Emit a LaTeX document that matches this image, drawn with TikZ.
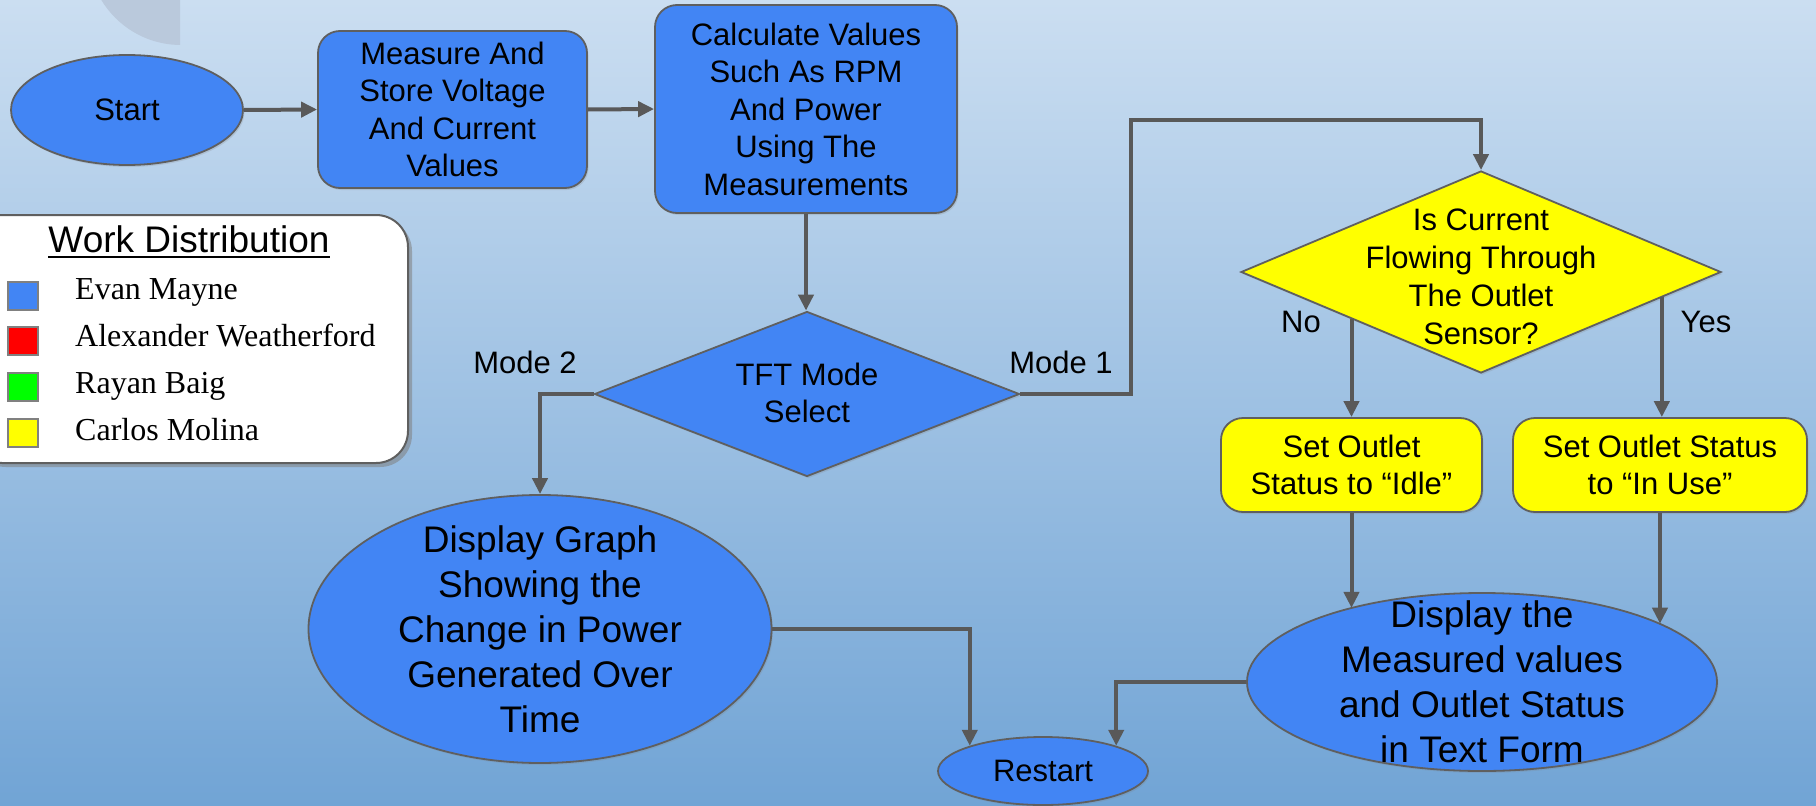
\documentclass[tikz,border=0pt]{standalone}
\usepackage{fontspec}
\setmainfont{Liberation Sans}
\newfontfamily\legendfont{Liberation Serif}
\usetikzlibrary{shapes.geometric,arrows.meta,shadows,calc}
\definecolor{bgtop}{RGB}{203,222,241}
\definecolor{bgbot}{RGB}{113,164,213}
\definecolor{gblue}{RGB}{66,133,244}
\definecolor{yel}{RGB}{255,255,0}
\definecolor{edgec}{RGB}{95,95,95}
\definecolor{wire}{RGB}{89,89,89}
\definecolor{ghost}{RGB}{186,201,220}
\newcommand\ftA{\fontsize{31pt}{37.5pt}\selectfont}
\newcommand\ftB{\fontsize{37pt}{45pt}\selectfont}
\newcommand\ftW{\fontsize{37pt}{44pt}\selectfont}
\newcommand\ftL{\legendfont\fontsize{32pt}{36pt}\selectfont}
\tikzset{
  shp/.style={draw=edgec, line width=1.8pt,
    drop shadow={opacity=0.22, shadow xshift=1.5pt, shadow yshift=-2pt}},
  bell/.style={shp, ellipse, fill=gblue, inner sep=0pt},
  bbox/.style={shp, rectangle, rounded corners=22pt, fill=gblue, inner sep=0pt,
    align=center, font=\ftA},
  ybox/.style={bbox, fill=yel},
  ddia/.style={shp, diamond, inner sep=0pt},
  txt/.style={align=center, font=\ftA, inner sep=0pt},
  bigtxt/.style={align=center, font=\ftB, inner sep=0pt},
  conn/.style={draw=wire, line width=4pt, -{Triangle[length=16pt,width=15pt]}},
  legbox/.style={draw=edgec, line width=2pt, fill=white, rounded corners=32pt,
    drop shadow={opacity=0.55, shadow xshift=4pt, shadow yshift=-4pt}},
  sq/.style={draw=gray, line width=1.2pt, minimum width=30pt, minimum height=28pt, inner sep=0pt},
  legname/.style={anchor=base west, font=\ftL, inner sep=0pt},
}
\begin{document}
\begin{tikzpicture}[x=1pt,y=-1pt]
\useasboundingbox (0,0) rectangle (1816,806);
\clip (0,0) rectangle (1816,806);
\shade[top color=bgtop, bottom color=bgbot] (0,0) rectangle (1816,806);
% faint decoration at top left
\begin{scope}
  \clip (0,0) rectangle (180,60);
  \fill[ghost] (181,-48) circle[radius=93pt];
\end{scope}

% legend
\node[legbox, minimum width=438pt, minimum height=248pt] (leg) at (189,339) {};
\node[anchor=base, font=\ftW, inner sep=0pt] (wd) at (189,252) {Work Distribution};
\draw[line width=1.8pt] ([yshift=-5pt]wd.base west) -- ([yshift=-5pt]wd.base east);
\node[sq, fill=gblue] (s1) at (23,296) {};
\node[sq, fill=red] (s2) at (23,341) {};
\node[sq, fill=green] (s3) at (23,387) {};
\node[sq, fill=yel] (s4) at (23,433) {};
\node[legname] (n1) at (75,299) {Evan Mayne};
\node[legname] (n2) at (75,346) {Alexander Weatherford};
\node[legname] (n3) at (75,393) {Rayan Baig};
\node[legname] (n4) at (75,440) {Carlos Molina};

% flow nodes
\node[bell, minimum width=232pt, minimum height=110pt, font=\ftA] (start) at (127,110) {Start};
\node[bbox, minimum width=269pt, minimum height=157pt] (meas) at (452.5,109.5)
  {Measure And\\Store Voltage\\And Current\\Values};
\node[bbox, minimum width=302pt, minimum height=208pt] (calc) at (806,109)
  {Calculate Values\\Such As RPM\\And Power\\Using The\\Measurements};
\node[ddia, fill=gblue, minimum width=425pt, minimum height=165pt] (tft) at (807,394) {};
\node[txt, font=\fontsize{31pt}{36.5pt}\selectfont] (tftt) at (807,393) {TFT Mode\\Select};
\node[ddia, fill=yel, minimum width=480pt, minimum height=202pt] (cur) at (1481,272) {};
\node[txt, font=\fontsize{31pt}{38pt}\selectfont] (curt) at (1481,277)
  {Is Current\\Flowing Through\\The Outlet\\Sensor?};
\node[ybox, minimum width=261pt, minimum height=94pt] (idle) at (1351.5,465)
  {Set Outlet\\Status to “Idle”};
\node[ybox, minimum width=294pt, minimum height=94pt] (inuse) at (1660,465)
  {Set Outlet Status\\to “In Use”};
\node[bell, minimum width=463pt, minimum height=268pt] (dgraph) at (540,629) {};
\node[bigtxt] (dgrapht) at (540,629)
  {Display Graph\\Showing the\\Change in Power\\Generated Over\\Time};
\node[bell, minimum width=470pt, minimum height=178pt] (disp) at (1482,682) {};
\node[bigtxt] (dispt) at (1482,682)
  {Display the\\Measured values\\and Outlet Status\\in Text Form};
\node[bell, minimum width=210pt, minimum height=68pt, font=\ftA] (restart) at (1043,771) {Restart};

% labels
\node[txt] (m2) at (525,362) {Mode 2};
\node[txt] (m1) at (1061,362) {Mode 1};
\node[txt] (no) at (1301,322) {No};
\node[txt] (yes) at (1706,322) {Yes};

% connectors
\coordinate (c1) at (1131,120);
\draw[conn] (start.east) -- (meas.west);
\draw[conn] (meas.east) -- (calc.west);
\draw[conn] (calc.south) -- (calc.south |- tft.north);
\draw[conn] (tft.east) -| (c1) -| (cur.north);
\draw[conn] (tft.west) -| (dgraph.north);
\draw[conn] (cur.200) -- (cur.200 |- idle.north);
\draw[conn] (cur.-8) -- (cur.-8 |- inuse.north);
\draw[conn] (idle.south) -- (idle.south |- disp.151);
\draw[conn] (inuse.south) -- (inuse.south |- disp.18);
\draw[conn] (dgraph.east) -| (restart.161);
\draw[conn] (disp.west) -| (restart.19);
\end{tikzpicture}
\end{document}
